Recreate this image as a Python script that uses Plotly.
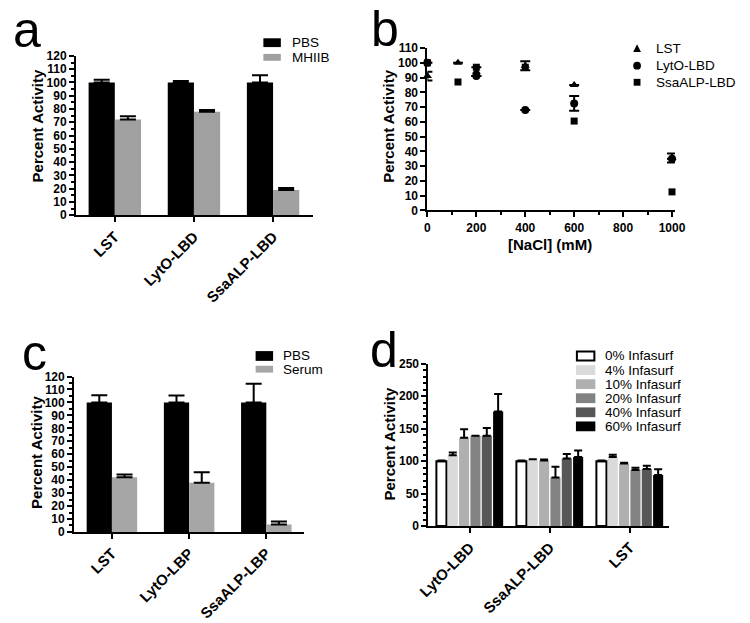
import plotly.graph_objects as go

W, H = 750, 623
def px(x): return x / W
def py(y): return 1 - y / H

# ---------------- data ----------------
# panel a
a_cats = ["LST", "LytO-LBD", "SsaALP-LBD"]
a_pbs = [100, 100, 100]
a_pbs_err = [2, 1, 5.5]
a_mhiib = [72, 78, 19]
a_mhiib_err = [2.5, 1.2, 1.5]

# panel b
b_nacl = [0, 125, 200, 400, 600, 1000]
b_lst = [91, 100, 94, 98, 85, 35.5]
b_lst_err = [3, 0, 3, 3, 0, 3]
b_lyto = [100, None, 91, 68, 72.5, 35]
b_lyto_err = [0, 0, 0, 0, 5, 0]
b_ssa = [100, 87, 97, 97, 60.5, 12.5]

# panel c
c_cats = ["LST", "LytO-LBP", "SsaALP-LBP"]
c_pbs = [100, 100, 100]
c_pbs_err = [5.5, 5.4, 14.5]
c_serum = [42.3, 38, 5.8]
c_serum_err = [2, 8, 2.3]

# panel d
d_cats = ["LytO-LBD", "SsaALP-LBD", "LST"]
d_names = ["0% Infasurf", "4% Infasurf", "10% Infasurf", "20% Infasurf", "40% Infasurf", "60% Infasurf"]
d_vals = [
    [100, 100, 100],
    [109, 103, 106.5],
    [136, 101, 96.5],
    [139, 75, 86.5],
    [139, 104, 88],
    [176.5, 106.5, 78.5],
]
d_errs = [
    [1, 1, 1],
    [4.5, 0, 3.5],
    [13, 1.5, 1],
    [0, 16.5, 3.5],
    [12, 7, 5],
    [27, 10, 9],
]
d_colors = ["white", "#dadada", "#b0b0b0", "#828282", "#575757", "#000000"]

FONT = "Liberation Sans"
TICKF = dict(family=FONT, size=12, color="black", weight="bold")
CATF = dict(family=FONT, size=15, color="black", weight="bold")

fig = go.Figure()

# ---- panel a ----
fig.add_trace(go.Bar(x=a_cats, y=a_pbs, name="PBS", marker=dict(color="black", line=dict(width=0)),
                     offset=-0.331, width=0.331,
                     error_y=dict(type="data", array=a_pbs_err, arrayminus=[0]*3, symmetric=False,
                                  color="black", thickness=2, width=8),
                     xaxis="x", yaxis="y", showlegend=False))
fig.add_trace(go.Bar(x=a_cats, y=a_mhiib, name="MHIIB", marker=dict(color="#a0a0a0", line=dict(width=0)),
                     offset=0, width=0.331,
                     error_y=dict(type="data", array=a_mhiib_err, arrayminus=[0]*3, symmetric=False,
                                  color="black", thickness=2, width=8),
                     xaxis="x", yaxis="y", showlegend=False))

# ---- panel b ----
fig.add_trace(go.Scatter(x=b_nacl, y=b_lst, mode="markers", name="LST",
                         marker=dict(symbol="triangle-up", size=8, color="black"),
                         error_y=dict(type="data", array=b_lst_err, color="black", thickness=2, width=5),
                         xaxis="x2", yaxis="y2", showlegend=False, cliponaxis=False))
fig.add_trace(go.Scatter(x=b_nacl, y=b_lyto, mode="markers", name="LytO-LBD",
                         marker=dict(symbol="circle", size=8, color="black"),
                         error_y=dict(type="data", array=b_lyto_err, color="black", thickness=2, width=5),
                         xaxis="x2", yaxis="y2", showlegend=False, cliponaxis=False))
fig.add_trace(go.Scatter(x=b_nacl, y=b_ssa, mode="markers", name="SsaALP-LBD",
                         marker=dict(symbol="square", size=7, color="black"),
                         xaxis="x2", yaxis="y2", showlegend=False, cliponaxis=False))

# ---- panel c ----
fig.add_trace(go.Bar(x=c_cats, y=c_pbs, name="PBS", marker=dict(color="black", line=dict(width=0)),
                     offset=-0.327, width=0.327,
                     error_y=dict(type="data", array=c_pbs_err, arrayminus=[0]*3, symmetric=False,
                                  color="black", thickness=2, width=8),
                     xaxis="x3", yaxis="y3", showlegend=False))
fig.add_trace(go.Bar(x=c_cats, y=c_serum, name="Serum", marker=dict(color="#a6a6a6", line=dict(width=0)),
                     offset=0, width=0.327,
                     error_y=dict(type="data", array=c_serum_err, arrayminus=[0]*3, symmetric=False,
                                  color="black", thickness=2, width=8),
                     xaxis="x3", yaxis="y3", showlegend=False))

# ---- panel d ----
pitch = 0.1418
for i, (nm, vals, errs, col) in enumerate(zip(d_names, d_vals, d_errs, d_colors)):
    fig.add_trace(go.Bar(x=d_cats, y=vals, name=nm,
                         marker=dict(color=col, line=dict(color="black", width=2 if i == 0 else 0)),
                         offset=-0.425 + i * pitch + 0.006, width=pitch - 0.016,
                         error_y=dict(type="data", array=errs, arrayminus=[0]*3, symmetric=False,
                                      color="black", thickness=2, width=4),
                         xaxis="x4", yaxis="y4", showlegend=False))

def xax(domain, **kw):
    d = dict(domain=domain, showline=True, linecolor="black", linewidth=2, ticks="outside",
             ticklen=5, tickwidth=2, tickcolor="black", showgrid=False, zeroline=False,
             tickfont=TICKF, anchor=None)
    d.update(kw)
    return d

layout = dict(
    width=W, height=H, margin=dict(l=0, r=0, t=0, b=0),
    paper_bgcolor="white", plot_bgcolor="white", barmode="overlay",
    xaxis=xax([px(67), px(311)], type="category", range=[-0.49, 2.503], tickangle=-45,
              tickfont=CATF, anchor="y"),
    yaxis=xax([py(213), py(50)], range=[0, 120], dtick=10, anchor="x",
              minor=dict(dtick=5, ticks="outside", ticklen=3, tickwidth=1.5, tickcolor="black")),
    xaxis2=xax([px(429), px(684)], range=[0, 1012], dtick=200, anchor="y2",
               minor=dict(dtick=100, ticks="outside", ticklen=3, tickwidth=1.5, tickcolor="black")),
    yaxis2=xax([py(208), py(42)], range=[0, 110], dtick=10, anchor="x2"),
    xaxis3=xax([px(65), px(302)], type="category", range=[-0.49, 2.49], tickangle=-45,
               tickfont=CATF, anchor="y3"),
    yaxis3=xax([py(537), py(378)], range=[0, 120], dtick=10, anchor="x3",
               minor=dict(dtick=5, ticks="outside", ticklen=3, tickwidth=1.5, tickcolor="black")),
    xaxis4=xax([px(430), px(678)], type="category", range=[-0.519, 2.49], tickangle=-45,
               tickfont=CATF, anchor="y4"),
    yaxis4=xax([py(531), py(365)], range=[0, 250], dtick=50, anchor="x4",
               minor=dict(dtick=10, ticks="outside", ticklen=3, tickwidth=1.5, tickcolor="black")),
)
fig.update_layout(**layout)

ann = []
shapes = []
def text(x, y, s, size, bold=False, angle=0, xanchor="center"):
    f = dict(family=FONT, size=size, color="black")
    if bold:
        f["weight"] = "bold"
    ann.append(dict(x=px(x), y=py(y), xref="paper", yref="paper", text=s, showarrow=False,
                    font=f, textangle=angle, xanchor=xanchor, yanchor="middle"))

# panel letters
text(0, 24, "a", 50, xanchor="left")
text(369, 22, "b", 50, xanchor="left")
text(9, 354, "c", 50, xanchor="left")
text(368, 351, "d", 50, xanchor="left")

# axis titles
text(27, 122, "Percent Activity", 15, bold=True, angle=-90)
text(389, 122, "Percent Activity", 15, bold=True, angle=-90)
text(27, 456, "Percent Activity", 15, bold=True, angle=-90)
text(390, 447, "Percent Activity", 15, bold=True, angle=-90)
text(555, 243, "[NaCl] (mM)", 15, bold=True)

def rect(x0, y0, x1, y1, fill, line=None):
    shapes.append(dict(type="rect", xref="paper", yref="paper", x0=px(x0), x1=px(x1), y0=py(y1), y1=py(y0),
                       fillcolor=fill, line=dict(color=line or fill, width=2 if line else 0)))

# legend a
rect(260, 32, 278, 41, "black")
rect(260, 48, 278, 55, "#a0a0a0")
text(287, 36, "PBS", 13.5, xanchor="left")
text(287, 52, "MHIIB", 13.5, xanchor="left")

# legend b
lx = 645
shapes.append(dict(type="path", xref="paper", yref="paper",
                   path=f"M {px(lx-4)} {py(46)} L {px(lx+4)} {py(46)} L {px(lx)} {py(38)} Z",
                   fillcolor="black", line=dict(width=0)))
shapes.append(dict(type="circle", xref="paper", yref="paper", x0=px(lx-4), x1=px(lx+4), y0=py(64), y1=py(56),
                   fillcolor="black", line=dict(width=0)))
rect(lx-3.5, 73.5, lx+3.5, 80.5, "black")
text(662, 42, "LST", 13.5, xanchor="left")
text(662, 60, "LytO-LBD", 13.5, xanchor="left")
text(662, 77, "SsaALP-LBD", 13.5, xanchor="left")

# legend c
rect(252, 352, 270, 362, "black")
rect(252, 367, 270, 374, "#a6a6a6")
text(278, 357, "PBS", 13.5, xanchor="left")
text(278, 371, "Serum", 13.5, xanchor="left")

# legend d
for i, (nm, col) in enumerate(zip(d_names, d_colors)):
    yc = 357 + i * 14.4
    if i == 0:
        rect(583, yc - 4.5, 601, yc + 4.5, "white", line="black")
    else:
        rect(582, yc - 5, 602, yc + 5, col)
    text(610, yc, nm, 13.5, xanchor="left")

fig.update_layout(annotations=ann, shapes=shapes)
fig.write_html("out.html", config={"displayModeBar": False},
               post_script="document.body.style.margin='0';document.body.style.padding='0';")
